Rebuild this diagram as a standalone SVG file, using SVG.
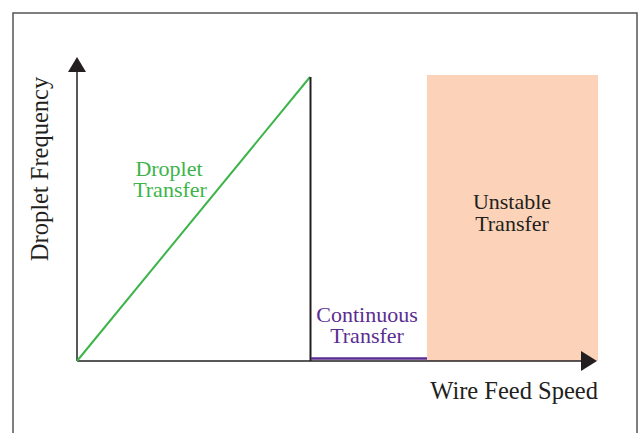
<svg xmlns="http://www.w3.org/2000/svg" width="640" height="433" viewBox="0 0 640 433">
<style>
text{font-family:"Liberation Serif","Times New Roman",serif}
.lbl{font-size:22px;text-anchor:middle}
.axis{font-size:24.5px;fill:#231f20}
</style>
<rect width="640" height="433" fill="#fff"/>
<rect x="13" y="13" width="624" height="440" fill="none" stroke="#555" stroke-width="1.5"/>
<g id="unstable">
<rect x="427" y="75" width="171" height="286" fill="#fcd3b9"/>
<text class="lbl" x="512" y="209" fill="#231f20">Unstable</text>
<text class="lbl" x="512" y="231" fill="#231f20">Transfer</text>
</g>
<g id="connectors">
<line x1="77" y1="361" x2="77" y2="70" stroke="#231f20" stroke-width="1.5"/>
<polygon points="77,57 68,72 86,72" fill="#231f20"/>
<line x1="77" y1="361" x2="583" y2="361" stroke="#231f20" stroke-width="1.5"/>
<polygon points="597,361 581,351 581,371" fill="#231f20"/>
<line x1="77" y1="361" x2="310" y2="77" stroke="#3cb44a" stroke-width="2"/>
<line x1="310.5" y1="77" x2="310.5" y2="361" stroke="#231f20" stroke-width="2"/>
<line x1="311" y1="358.5" x2="427" y2="358.5" stroke="#5b2d91" stroke-width="2.5"/>
</g>
<g id="droplet">
<text class="lbl" x="169" y="176" fill="#3cb44a">Droplet</text>
<text class="lbl" x="170" y="197" fill="#3cb44a">Transfer</text>
</g>
<g id="continuous">
<text class="lbl" x="367" y="322" fill="#5b2d91">Continuous</text>
<text class="lbl" x="367" y="343" fill="#5b2d91">Transfer</text>
</g>
<text class="axis" x="598" y="399" text-anchor="end">Wire Feed Speed</text>
<text class="axis" transform="translate(48,169) rotate(-90)" text-anchor="middle">Droplet Frequency</text>
</svg>
